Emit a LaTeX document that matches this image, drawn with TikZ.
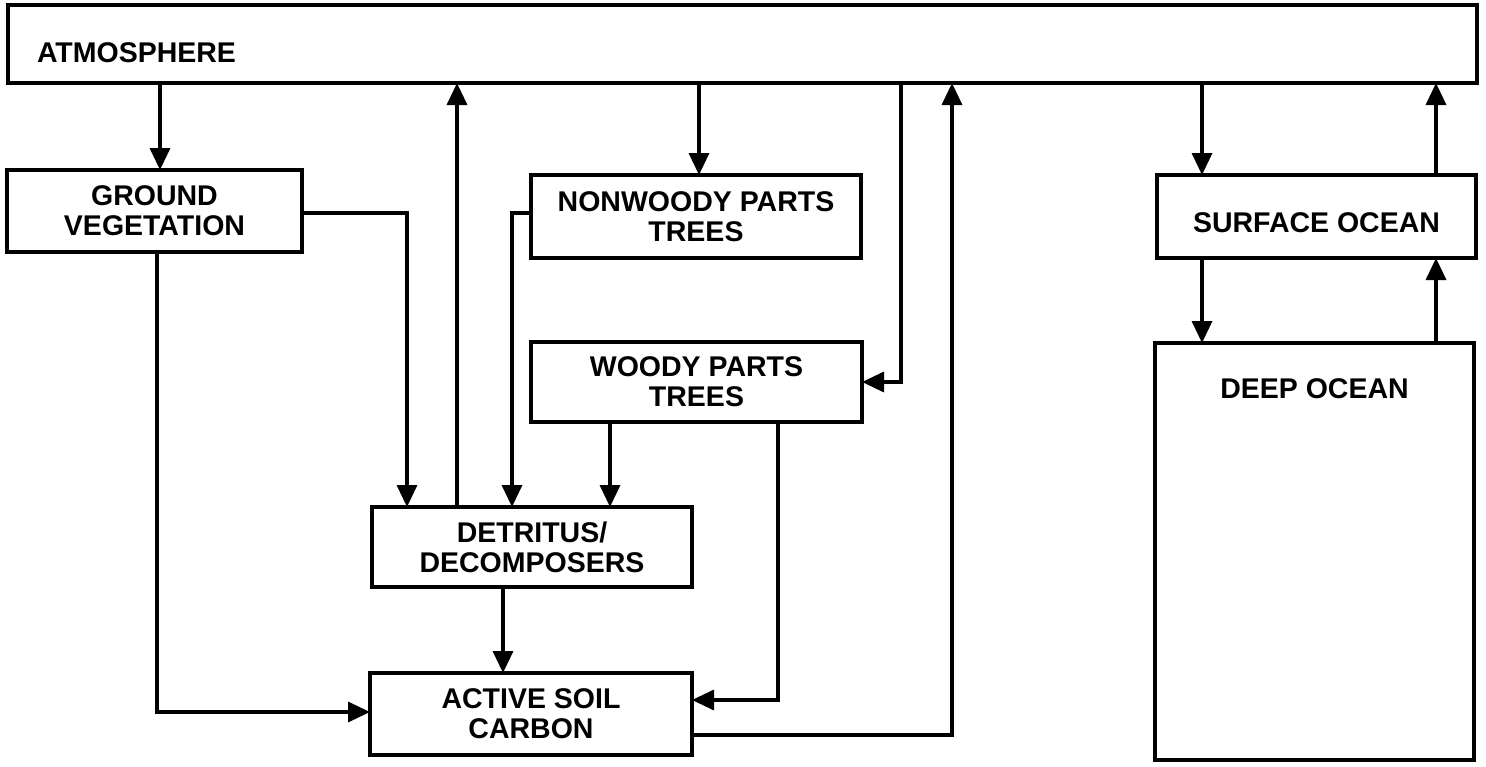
\documentclass[tikz,border=0pt]{standalone}
\usepackage{fontspec}
\setmainfont{Liberation Sans}
\usetikzlibrary{arrows.meta}
\tikzset{
  box/.style={draw, line width=3.6pt, inner sep=0pt, outer sep=0pt, align=center,
    font=\fontsize{28.5}{30}\selectfont\bfseries},
  arr/.style={line width=3.4pt, -{Triangle[length=22pt,width=20pt]}},
  ln/.style={line width=3.4pt}
}
\begin{document}
\begin{tikzpicture}[x=1pt,y=-1pt]
\useasboundingbox (0,0) rectangle (1486,766);
% boxes
\node[box, anchor=north, minimum width=1469pt, text width=1411pt, inner xsep=29pt,
      align=left, text height=57pt, text depth=21pt] (atmo) at (742.5,5) {ATMOSPHERE};
\node[box, minimum width=295pt, minimum height=82pt] (gv) at (154.5,211) {GROUND\\VEGETATION};
\node[box, minimum width=330pt, minimum height=83pt] (nw) at (696,216.5) {NONWOODY PARTS\\TREES};
\node[box, minimum width=331pt, minimum height=80pt] (wd) at (696.5,382) {WOODY PARTS\\TREES};
\node[box, minimum width=320pt, minimum height=80pt] (det) at (532,547) {DETRITUS/\\DECOMPOSERS};
\node[box, minimum width=322pt, minimum height=82pt] (as) at (531,714) {ACTIVE SOIL\\CARBON};
\node[box, anchor=north, minimum width=319pt, text height=57pt, text depth=26pt] (so) at (1316.5,175) {SURFACE OCEAN};
\node[box, anchor=north, minimum width=319pt, text height=55pt, text depth=362pt] (deep) at (1314.5,343) {DEEP OCEAN};
% helper coordinates
\coordinate (wa) at (901,382);
\coordinate (asr) at (952,735);
\coordinate (oL) at (1202,0);
\coordinate (oR) at (1436,0);
\coordinate (g1) at (407,213);
\coordinate (g2) at (157,712);
\coordinate (n1) at (512,213);
\coordinate (w1) at (610,0);
\coordinate (w2) at (778,700);
\coordinate (d1) at (503,0);
\coordinate (up1) at (457,0);
\coordinate (a1) at (160,0);
\coordinate (a2) at (699,0);
% connectors
\draw[arr] (a1 |- atmo.south) -- (a1 |- gv.north);
\draw[arr] (up1 |- det.north) -- (up1 |- atmo.south);
\draw[arr] (a2 |- atmo.south) -- (a2 |- nw.north);
\draw[arr] (wa |- atmo.south) -- (wa) -- (wa -| wd.east);
\draw[arr] (as.east |- asr) -- (asr) -- (asr |- atmo.south);
\draw[arr] (oL |- atmo.south) -- (oL |- so.north);
\draw[arr] (oR |- so.north) -- (oR |- atmo.south);
\draw[arr] (oL |- so.south) -- (oL |- deep.north);
\draw[arr] (oR |- deep.north) -- (oR |- so.south);
\draw[arr] (gv.east |- g1) -- (g1) -- (g1 |- det.north);
\draw[arr] (g2 |- gv.south) -- (g2) -- (g2 -| as.west);
\draw[arr] (nw.west |- n1) -- (n1) -- (n1 |- det.north);
\draw[arr] (w1 |- wd.south) -- (w1 |- det.north);
\draw[arr] (w2 |- wd.south) -- (w2) -- (w2 -| as.east);
\draw[arr] (d1 |- det.south) -- (d1 |- as.north);
\end{tikzpicture}
\end{document}
